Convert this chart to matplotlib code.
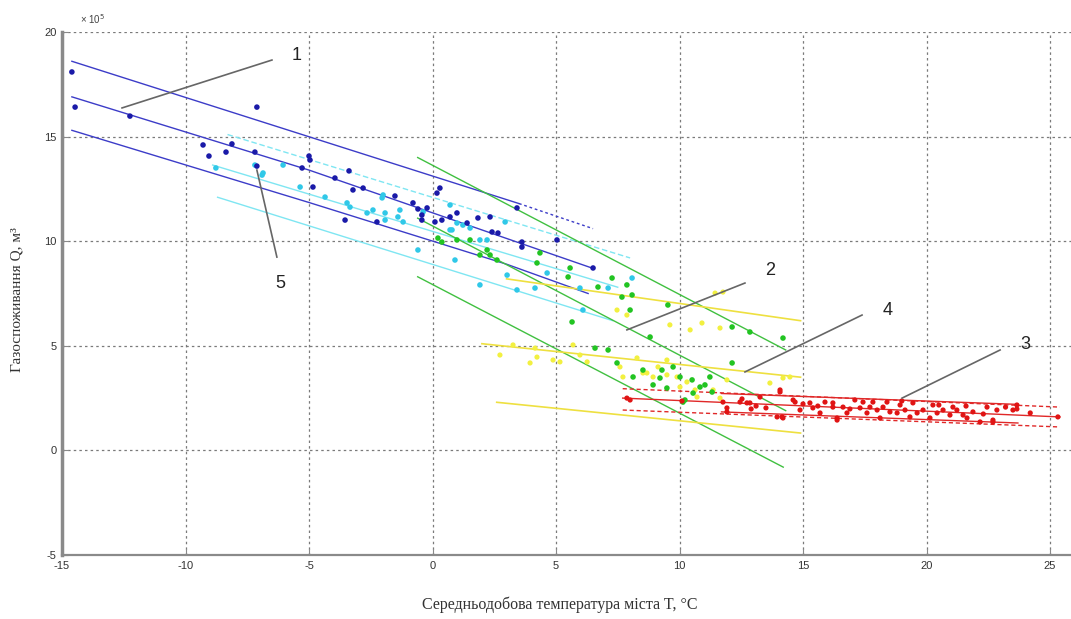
import matplotlib
matplotlib.use("Agg")
import matplotlib.pyplot as plt
import numpy as np

# ---------------- data ----------------
blue_x = [-14.60, -14.47, -12.25, -7.11, -8.12, -8.36, -9.05, -7.19, -7.11, -5.28, -5.00, -4.96,
          -4.84, -3.95, -3.38, -3.22, -2.81, -3.54, -2.25, -1.52, -0.79, -0.59, -0.43, -0.43,
          0.30, 0.18, 0.38, 0.71, 0.99, 1.84, 2.33, 2.65, 0.10, -0.22, 1.40, 2.41, 3.42, 3.62,
          3.62, 5.04, 6.50, -9.29]
blue_y = [18.09, 16.41, 15.98, 16.41, 14.65, 14.26, 14.07, 14.26, 13.59, 13.50, 14.07, 13.88,
          12.59, 13.02, 13.36, 12.45, 12.54, 11.01, 10.92, 12.16, 11.83, 11.54, 11.25, 11.01,
          12.54, 12.30, 11.01, 11.16, 11.35, 11.11, 11.16, 10.39, 10.92, 11.59, 10.87, 10.44,
          11.59, 9.96, 9.72, 10.06, 8.72, 14.60]

cyan_x = [-8.77, -6.90, -6.05, -5.36, -4.35, -3.46, -2.65, -2.41, -7.19, -6.86, -3.34, -2.04,
          -1.92, -1.40, -1.19, -0.38, -0.59, 0.71, 0.99, 1.52, 0.71, 1.92, 2.21, 1.92, 0.91,
          -2.00, -1.92, -1.32, 0.79, 1.23, 2.94, 3.02, 3.42, 4.15, 4.64, 5.97, 7.11, 8.08, 6.09]
cyan_y = [13.50, 13.16, 13.64, 12.59, 12.11, 11.83, 11.35, 11.49, 13.64, 13.26, 11.63, 12.07,
          11.35, 11.16, 10.92, 11.40, 9.58, 11.73, 10.87, 10.63, 10.54, 10.06, 10.06, 7.91, 9.10,
          12.21, 11.01, 11.49, 10.54, 10.77, 10.92, 8.38, 7.67, 7.76, 8.48, 7.76, 7.76, 8.24, 6.71]

green_x = [0.22, 0.38, 0.99, 1.52, 2.21, 2.33, 2.61, 1.92, 4.35, 4.23, 5.57, 5.49, 6.70, 7.27,
           7.87, 7.67, 8.08, 8.00, 9.53, 5.65, 6.58, 7.11, 7.47, 8.12, 8.52, 8.93, 9.21, 9.29,
           9.74, 9.49, 10.02, 10.14, 10.22, 10.51, 10.83, 11.03, 11.23, 11.32, 10.55, 8.81,
           12.13, 12.85, 14.19, 12.13]
green_y = [10.15, 9.96, 10.06, 10.06, 9.58, 9.34, 9.10, 9.34, 9.44, 8.96, 8.72, 8.29, 7.81, 8.24,
           7.91, 7.33, 7.43, 6.71, 6.95, 6.14, 4.89, 4.80, 4.18, 3.51, 3.84, 3.13, 3.46, 3.84,
           3.99, 2.98, 3.51, 2.31, 2.41, 3.37, 3.03, 3.13, 3.51, 2.79, 2.74, 5.42,
           5.90, 5.66, 5.37, 4.18]

yellow_x = [11.44, 11.76, 7.47, 7.87, 10.91, 10.43, 11.64, 9.61, 3.95, 3.26, 2.73, 4.23, 5.16,
            5.69, 5.97, 7.59, 7.71, 8.28, 8.52, 9.13, 9.49, 9.90, 10.30, 10.63, 10.02, 11.36,
            11.92, 9.49, 8.93, 14.19, 14.47, 13.66, 11.64, 10.71, 4.88, 6.26, 8.68, 4.15]
yellow_y = [7.52, 7.57, 6.71, 6.47, 6.09, 5.76, 5.85, 6.00, 4.18, 5.04, 4.56, 4.46, 4.23,
            5.04, 4.56, 3.99, 3.51, 4.42, 3.70, 3.99, 3.61, 3.51, 3.27, 2.89, 3.03, 2.89,
            3.37, 4.32, 3.51, 3.46, 3.51, 3.22, 2.50, 2.55, 4.32, 4.23, 3.70, 4.89]

red_x = [7.87, 8.00, 11.76, 11.92, 12.45, 12.73, 14.07, 13.95, 14.19, 14.60, 14.88, 15.28, 15.40,
         15.69, 15.89, 16.21, 16.38, 16.62, 16.78, 17.31, 17.43, 17.59, 17.71, 17.83, 18.00,
         18.12, 18.24, 18.40, 18.52, 18.81, 18.93, 19.13, 19.33, 19.45, 19.62, 19.86, 20.14,
         20.26, 20.43, 20.67, 20.95, 21.23, 21.64, 21.88, 22.45, 22.69, 22.85, 23.66, 25.32,
         11.92, 12.53, 12.85, 13.26, 14.07, 14.15, 14.68, 16.21, 16.38, 21.07, 21.48, 22.17,
         22.69, 23.50, 23.66, 12.90, 13.10, 13.50, 15.00, 15.60, 16.90, 17.10, 19.00, 20.50,
         21.60, 22.30, 23.20, 24.20, 10.10]
red_y = [2.50, 2.41, 2.31, 2.03, 2.31, 2.27, 2.89, 1.60, 1.55, 2.41, 1.93, 2.27, 2.03,
         1.79, 2.31, 2.07, 1.55, 2.07, 1.79, 2.03, 2.31, 1.79, 2.07, 2.31, 1.93,
         1.55, 2.07, 2.31, 1.84, 1.79, 2.17, 1.93, 1.60, 2.27, 1.79, 1.93, 1.55,
         2.17, 1.79, 1.93, 1.69, 1.93, 1.55, 1.84, 2.07, 1.45, 1.93, 1.98, 1.60,
         1.84, 2.46, 2.27, 2.55, 2.79, 1.60, 2.31, 2.27, 1.45, 2.07, 1.69, 1.36,
         1.36, 1.93, 2.17, 1.98, 2.12, 2.03, 2.22, 2.12, 1.98, 2.41, 2.36, 2.17,
         2.12, 1.74, 2.07, 1.79, 2.36]

# regression / bound lines: (x-nodes, y-nodes)
blue_upper = ([-14.6, 3.5], [18.6, 11.8])
blue_upper_ext = ([3.5, 6.5], [11.8, 10.6])
blue_center = ([-14.6, -5.0, 6.5], [16.9, 13.4, 8.7])
blue_lower = ([-14.6, -5.0, 3.0, 6.3], [15.3, 11.85, 8.9, 7.5])

cyan_upper = ([-8.3, 8.0], [15.1, 9.2])
cyan_center = ([-8.9, 7.5], [13.64, 7.8])
cyan_lower = ([-8.7, 7.3], [12.1, 6.2])

green_upper = ([-0.6, 14.3], [14.0, 4.8])
green_center = ([-0.6, 14.3], [11.1, 1.9])
green_lower = ([-0.6, 14.2], [8.3, -0.8])

yellow_upper = ([3.0, 14.9], [8.2, 6.2])
yellow_center = ([2.0, 14.9], [5.1, 3.5])
yellow_lower = ([2.6, 14.9], [2.3, 0.83])

red_outer_upper = ([7.7, 25.4], [2.95, 2.07])
red_inner_upper = ([11.7, 23.7], [2.72, 2.20])
red_center = ([7.7, 25.4], [2.5, 1.6])
red_inner_lower = ([11.7, 23.7], [1.84, 1.31])
red_outer_lower = ([7.7, 25.4], [1.93, 1.12])

# curve labels: (label, text x, text y, leader start, leader end)
labels = ["1", "2", "4", "3", "5"]
label_xy = [(-5.49, 18.90), (13.66, 8.62), (18.44, 6.71), (23.99, 5.04), (-6.17, 8.0)]
leader_from = [(-6.50, 18.66), (12.65, 8.00), (17.39, 6.47), (22.98, 4.80), (-6.30, 9.24)]
leader_to = [(-12.57, 16.37), (7.87, 5.76), (12.65, 3.75), (19.01, 2.50), (-7.11, 13.40)]

xticks = [-15, -10, -5, 0, 5, 10, 15, 20, 25]
yticks = [-5, 0, 5, 10, 15, 20]

# ---------------- drawing ----------------
W, H = 1071, 619
fig = plt.figure(figsize=(W / 100, H / 100), dpi=100)
ax = fig.add_axes([62 / W, (H - 555) / H, 1 - 62 / W, (555 - 32) / H])
ax.set_xlim(-15, -15 + (W - 62) / 24.7)
ax.set_ylim(-5, 20)

grid_kw = dict(color="#7a7a7a", lw=0.9, ls=(0, (2, 2.5)), zorder=0)
for xt in xticks[1:]:
    ax.axvline(xt, **grid_kw)
for yt in yticks[1:]:
    ax.axhline(yt, **grid_kw)

for s in ["top", "right"]:
    ax.spines[s].set_visible(False)
ax.spines["left"].set_color("#8a8a8a")
ax.spines["left"].set_linewidth(2.5)
ax.spines["bottom"].set_color("#8a8a8a")
ax.spines["bottom"].set_linewidth(1.6)

tick_font = dict(family=["Liberation Sans Narrow", "Liberation Sans", "DejaVu Sans"], size=8)
ax.set_xticks(xticks)
ax.set_yticks(yticks)
ax.set_xticklabels([str(v) for v in xticks], fontdict=tick_font, color="#333333")
ax.set_yticklabels([str(v) for v in yticks], fontdict=tick_font, color="#333333")
ax.tick_params(axis="both", direction="in", length=4, color="#8a8a8a", pad=4)

def line(spec, color, lw=1.0, ls="-", alpha=1.0):
    ax.plot(spec[0], spec[1], color=color, lw=lw, ls=ls, alpha=alpha, zorder=2)

bcol = "#3c3cc8"
line(blue_upper, bcol); line(blue_upper_ext, bcol, ls=(0, (2, 2)))
line(blue_center, bcol); line(blue_lower, bcol)

ccol = "#7fe6f2"
line(cyan_upper, ccol, ls=(0, (4, 2))); line(cyan_center, ccol); line(cyan_lower, ccol)

gcol = "#40c040"
line(green_upper, gcol); line(green_center, gcol); line(green_lower, gcol)

ycol = "#eee040"
line(yellow_upper, ycol, lw=1.2); line(yellow_center, ycol, lw=1.2); line(yellow_lower, ycol, lw=1.2)

rcol = "#e02828"
line(red_outer_upper, rcol, ls=(0, (3, 2))); line(red_inner_upper, rcol)
line(red_center, rcol); line(red_inner_lower, rcol)
line(red_outer_lower, rcol, ls=(0, (3, 2)))

ax.scatter(yellow_x, yellow_y, s=14, color="#f2f040", edgecolors="none", zorder=3)
ax.scatter(green_x, green_y, s=16, color="#22c422", edgecolors="none", zorder=3)
ax.scatter(cyan_x, cyan_y, s=16, color="#30c8e8", edgecolors="none", zorder=3)
ax.scatter(blue_x, blue_y, s=16, color="#1a1aa8", edgecolors="none", zorder=4)
ax.scatter(red_x, red_y, s=14, color="#e01414", edgecolors="none", zorder=3)

for lab, (tx, ty), p0, p1 in zip(labels, label_xy, leader_from, leader_to):
    ax.plot([p0[0], p1[0]], [p0[1], p1[1]], color="#666666", lw=1.2, zorder=5)
    ax.text(tx, ty, lab, fontsize=13, family=["Liberation Sans", "DejaVu Sans"],
            ha="center", va="center", color="#222222", zorder=6)

fig.text(80 / W, 1 - 19 / H, "× 10$^5$", fontsize=7, color="#444444",
         family=["Liberation Sans", "DejaVu Sans"], ha="left", va="center")

fig.text(17 / W, 1 - 300 / H, "Газоспоживання Q, м³", rotation=90, fontsize=11,
         family=["Liberation Serif", "DejaVu Serif"], ha="center", va="center", color="#333333")
fig.text(560 / W, 1 - 605 / H, "Середньодобова температура міста T, °C", fontsize=11.5,
         family=["Liberation Serif", "DejaVu Serif"], ha="center", va="center", color="#333333")

fig.savefig("out.png", dpi=100)
